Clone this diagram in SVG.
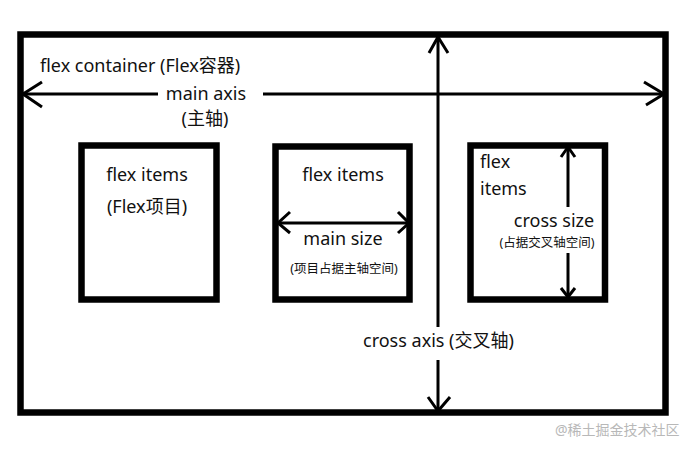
<svg xmlns="http://www.w3.org/2000/svg" width="700" height="450" viewBox="0 0 700 450">
<style>
.box{fill:none;stroke:#000;stroke-width:6.5}
.ln{fill:none;stroke:#000;stroke-width:3}
.hd{fill:none;stroke:#000;stroke-width:3;stroke-linecap:butt;stroke-linejoin:miter}
text{font-family:"Noto Sans","Liberation Sans","Noto Sans CJK SC",sans-serif;fill:#111}
.t{font-size:18px}
.s{font-size:12.5px}
.c{text-anchor:middle}
</style>
<rect width="700" height="450" fill="#fff"/>
<g id="container">
<rect class="box" x="20.5" y="34.5" width="645" height="378"/>
<text class="t" x="40" y="72">flex container (Flex容器)</text>
</g>
<g id="item1">
<rect class="box" x="81.5" y="145.5" width="135" height="154"/>
<text class="t c" x="147" y="181">flex items</text>
<text class="t c" x="147" y="213">(Flex项目)</text>
</g>
<g id="item2">
<rect class="box" x="275.5" y="146.5" width="134" height="153"/>
<text class="t c" x="343" y="181">flex items</text>
<text class="t c" x="343" y="245">main size</text>
<text class="s c" x="344" y="273">(项目占据主轴空间)</text>
</g>
<g id="item3">
<rect class="box" x="470.5" y="145.5" width="134.5" height="154"/>
<text class="t" x="480" y="168">flex</text>
<text class="t" x="480" y="195">items</text>
<text class="t c" x="554" y="227">cross size</text>
<text class="s c" x="547" y="247">(占据交叉轴空间)</text>
</g>
<g id="connectors">
<!-- main axis -->
<line class="ln" x1="23" y1="94" x2="158" y2="94"/>
<line class="ln" x1="263" y1="94" x2="664" y2="94"/>
<polyline class="hd" points="42,82 23,94 42,107"/>
<polyline class="hd" points="644,82 664,94 646,105"/>
<!-- cross axis -->
<line class="ln" x1="438" y1="37" x2="438" y2="327"/>
<line class="ln" x1="438" y1="360" x2="438" y2="411"/>
<polyline class="hd" points="429,53 438,37 448,53"/>
<polyline class="hd" points="428,397 438,411 450,397"/>
<!-- main size -->
<line class="ln" x1="278" y1="223" x2="409" y2="223"/>
<polyline class="hd" points="290,212 278,223 290,233"/>
<polyline class="hd" points="398,212 409,223 398,233"/>
<!-- cross size -->
<line class="ln" x1="568" y1="147" x2="568" y2="207"/>
<line class="ln" x1="568" y1="253" x2="568" y2="297"/>
<polyline class="hd" points="561,157 568,147 575,157"/>
<polyline class="hd" points="561,288 568,297 575,288"/>
</g>
<g id="labels">
<text class="t c" x="206" y="100">main axis</text>
<text class="t c" x="205" y="125">(主轴)</text>
<text class="t" x="363" y="347">cross axis (交叉轴)</text>
</g>
<text x="555" y="435" style="font-size:14px;fill:#b8b8b8">@稀土掘金技术社区</text>
</svg>
